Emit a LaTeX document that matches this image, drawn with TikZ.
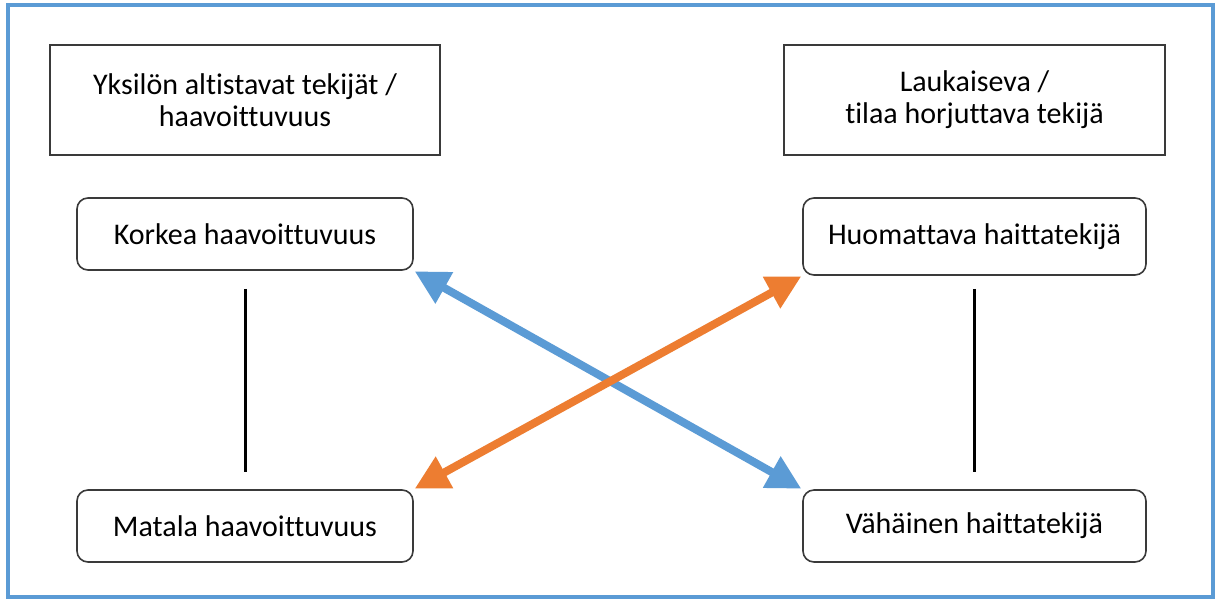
\documentclass[tikz,border=0pt]{standalone}
\usepackage{fontspec}
\setmainfont{Carlito}[Ligatures=NoCommon]
\usetikzlibrary{arrows.meta}
\definecolor{frameblue}{HTML}{5B9BD5}
\definecolor{linkblue}{HTML}{5B9BD5}
\definecolor{linkorange}{HTML}{ED7D31}
\definecolor{boxline}{HTML}{3A3A3A}
\tikzset{
  header/.style={draw=boxline, line width=1.6pt, minimum width=390pt, minimum height=110pt,
    align=center, font=\fontsize{30}{32}\selectfont},
  level/.style={draw=boxline, line width=1.6pt, rounded corners=11pt, minimum width=336pt,
    minimum height=72pt, align=center, font=\fontsize{30}{32}\selectfont},
  link/.style={line width=8pt, {Triangle[length=34pt,width=34pt]}-{Triangle[length=34pt,width=34pt]}, shorten <=1pt, shorten >=1pt},
  axis/.style={line width=3pt, black}
}
\begin{document}
\begin{tikzpicture}[x=1pt,y=-1pt]
\useasboundingbox (0,0) rectangle (1217,598);
\fill[white] (0,0) rectangle (1217,598);
\draw[frameblue, line width=4pt] (8,5) rectangle (1213,597);

\node[header] (hl) at (245,100) {Yksilön altistavat tekijät /\\haavoittuvuus};
\node[header, minimum width=381pt] (hr) at (974.5,100) {Laukaiseva /\\tilaa horjuttava tekijä};

\node[level] (kh) at (245,234) {Korkea haavoittuvuus};
\node[level] (mh) at (245,526) {Matala haavoittuvuus};
\node[level, minimum width=343pt, minimum height=77pt] (ht) at (974.5,236.5) {Huomattava haittatekijä};
\node[level, minimum width=343pt] (vt) at (974.5,526) {Vähäinen haittatekijä};

\draw[axis] ([yshift=-18pt]kh.south) -- ([yshift=17pt]mh.north);
\draw[axis] ([yshift=-13pt]ht.south) -- ([yshift=17pt]vt.north);

\draw[link, linkblue] (kh.south east) -- (vt.north west);
\draw[link, linkorange] (mh.north east) -- (ht.south west);
\end{tikzpicture}
\end{document}
